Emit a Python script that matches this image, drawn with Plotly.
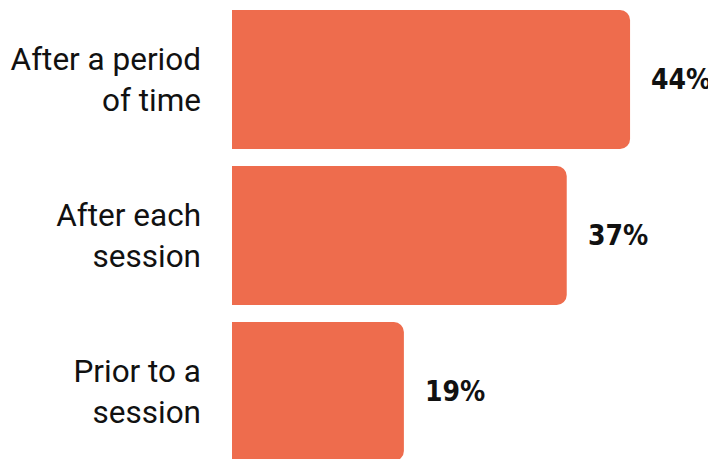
import plotly.graph_objects as go

categories = ["After a period<br>of time", "After each<br>session", "Prior to a<br>session"]
values = [44, 37, 19]
value_labels = ["44%", "37%", "19%"]

bar_color = "#EE6C4D"

fig = go.Figure()
fig.add_trace(go.Bar(
    x=values,
    y=categories,
    orientation="h",
    marker=dict(color=bar_color, line=dict(width=0)),
    hoverinfo="skip",
))

for c, v, t in zip(categories, values, value_labels):
    fig.add_annotation(
        x=v, y=c, text=t, showarrow=False, xanchor="left", yanchor="middle",
        xshift=19,
        font=dict(family="DejaVu Sans Condensed, Roboto, sans-serif", size=28,
                  color="#111111", weight="bold"),
    )

fig.update_layout(
    width=708, height=451,
    margin=dict(l=224, r=0, t=0, b=0),
    paper_bgcolor="white", plot_bgcolor="white",
    bargap=0.109,
    barcornerradius=10,
    showlegend=False,
    xaxis=dict(range=[0, 53.5], visible=False, fixedrange=True),
    yaxis=dict(
        range=[2.4327, -0.4583],
        showgrid=False, zeroline=False, showline=False, ticks="",
        tickfont=dict(family="Roboto", size=31.5, color="#111111"),
        ticklabelstandoff=30,
        fixedrange=True,
    ),
)

fig.write_html("out.html", config={"displayModeBar": False})
